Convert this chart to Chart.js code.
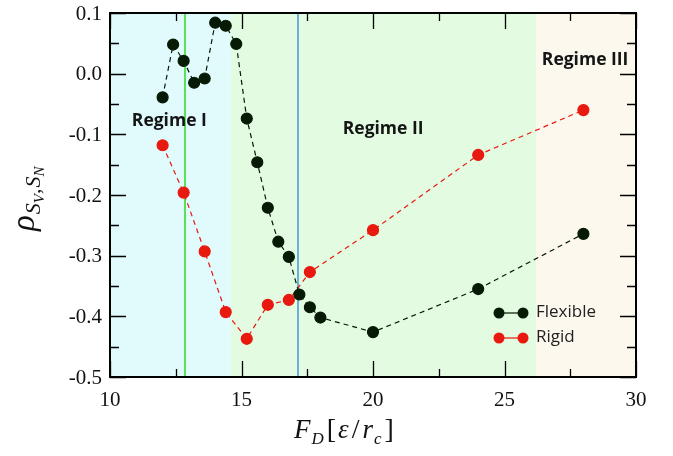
<!DOCTYPE html>
<html>
<head>
<meta charset="utf-8">
<script src="https://cdn.jsdelivr.net/npm/chart.js@4.4.1/dist/chart.umd.min.js"></script>
<style>
  html, body { margin: 0; padding: 0; background: #fff; }
</style>
</head>
<body>
<canvas id="myChart" width="673" height="456"></canvas>
<script>
// data
const fdFlexible = [12, 12.4, 12.8, 13.2, 13.6, 14, 14.4, 14.8, 15.2, 15.6, 16, 16.4, 16.8, 17.2, 17.6, 18, 20, 24, 28];
const rhoFlexible = [-0.039, 0.048, 0.021, -0.015, -0.008, 0.084, 0.079, 0.049, -0.074, -0.146, -0.221, -0.277, -0.302, -0.364, -0.385, -0.402, -0.426, -0.355, -0.264];
const fdRigid = [12, 12.8, 13.6, 14.4, 15.2, 16, 16.8, 17.6, 20, 24, 28];
const rhoRigid = [-0.118, -0.196, -0.293, -0.393, -0.437, -0.381, -0.373, -0.327, -0.258, -0.134, -0.060];

const regimeNames = ['Regime I', 'Regime II', 'Regime III'];
const regimeBounds = [10, 14.6, 26.2, 30];
const markerLines = [12.85, 17.14];

const xTicks = [10, 15, 20, 25, 30];
const xMinor = [12.5, 17.5, 22.5, 27.5];
const yTicks = [-0.5, -0.4, -0.3, -0.2, -0.1, 0.0, 0.1];
const yMinor = [-0.45, -0.35, -0.25, -0.15, -0.05, 0.05];

const bandColors = ['#e1fbfd', '#e2fbe1', '#fdf8ee'];
const lineColors = ['#58e254', '#3f9bd6'];
const lineWidths = [2, 1.5];
const flexColor = '#061a06';
const rigidColor = '#e8190e';
const axisColor = '#000000';

const pts = (xs, ys) => xs.map((x, i) => ({ x: x, y: ys[i] }));

// bands and the two marker lines, under the data
const bands = {
  id: 'bands',
  beforeDatasetsDraw(chart) {
    const ctx = chart.ctx, a = chart.chartArea;
    const sx = chart.scales.x;
    ctx.save();
    for (let i = 0; i < bandColors.length; i++) {
      const x0 = sx.getPixelForValue(regimeBounds[i]);
      const x1 = sx.getPixelForValue(regimeBounds[i + 1]);
      ctx.fillStyle = bandColors[i];
      ctx.fillRect(x0, a.top, x1 - x0, a.bottom - a.top);
    }
    markerLines.forEach((v, i) => {
      const px = Math.round(sx.getPixelForValue(v));
      ctx.fillStyle = lineColors[i];
      ctx.fillRect(px - lineWidths[i] / 2, a.top, lineWidths[i], a.bottom - a.top);
    });
    ctx.restore();
  }
};

// texts, then the frame and inward ticks on top of everything
const texts = {
  id: 'texts',
  afterDraw(chart) {
    const ctx = chart.ctx, a = chart.chartArea;
    const sx = chart.scales.x, sy = chart.scales.y;
    ctx.save();
    ctx.fillStyle = '#111';
    ctx.font = '21px "Liberation Serif"';
    ctx.textAlign = 'right';
    ctx.textBaseline = 'middle';
    yTicks.forEach(v => {
      const s = (Math.abs(v) < 1e-9 ? 0 : v).toFixed(1);
      ctx.fillText(s, a.left - 8, sy.getPixelForValue(v) + 1);
    });

    ctx.fillStyle = '#151515';
    ctx.font = 'bold 17.5px "Open Sans"';
    ctx.textAlign = 'left';
    ctx.fillText(regimeNames[0], sx.getPixelForValue(10.83), sy.getPixelForValue(-0.078));
    ctx.fillText(regimeNames[1], sx.getPixelForValue(18.85), sy.getPixelForValue(-0.091));
    ctx.fillText(regimeNames[2], sx.getPixelForValue(26.42), sy.getPixelForValue(0.0225));

    const lx0 = 499, lx1 = 523;
    [[flexColor, 'Flexible', 313], [rigidColor, 'Rigid', 338]].forEach(([c, label, ly]) => {
      ctx.fillStyle = c;
      ctx.fillRect(lx0, ly - 0.6, lx1 - lx0, 1.2);
      [lx0, lx1].forEach(px => {
        ctx.beginPath(); ctx.arc(px, ly, 5.5, 0, Math.PI * 2); ctx.fill();
      });
      ctx.fillStyle = '#222';
      ctx.font = '17px "Open Sans"';
      ctx.fillText(label, 536, ly - 1);
    });

    ctx.fillStyle = '#111';
    ctx.textBaseline = 'alphabetic';
    let cx = 294, by = 438;
    const put = (t, font, dy, gap) => {
      ctx.font = font;
      ctx.fillText(t, cx, by + (dy || 0));
      cx += ctx.measureText(t).width + (gap || 0);
    };
    put('F', 'italic 27px "Liberation Serif"', 0, 1);
    put('D', 'italic 17px "Liberation Serif"', 6, 3);
    put('[', '28px "Liberation Serif"', 0, 2);
    put('\u03b5', 'italic 27px "Liberation Serif"', 0, 3);
    put('/', '28px "Liberation Serif"', 0, 3);
    put('r', 'italic 27px "Liberation Serif"', 0, 1);
    put('c', 'italic 17px "Liberation Serif"', 6, 3);
    put(']', '28px "Liberation Serif"');

    ctx.save();
    ctx.translate(34, 231);
    ctx.rotate(-Math.PI / 2);
    cx = 0; by = 0;
    put('\u03c1', 'italic 33px "Liberation Serif"', 0, 1);
    put('S', 'italic 22px "Liberation Serif"', 6);
    put('V', 'italic 15px "Liberation Serif"', 10);
    put(',', '22px "Liberation Serif"', 6, 1);
    put('S', 'italic 22px "Liberation Serif"', 6);
    put('N', 'italic 15px "Liberation Serif"', 10);
    ctx.restore();

    // inward ticks, all four sides
    ctx.setLineDash([]);
    ctx.globalAlpha = 1;
    ctx.globalCompositeOperation = 'source-over';
    ctx.strokeStyle = axisColor;
    ctx.lineWidth = 1.3;
    ctx.beginPath();
    xTicks.concat(xMinor).forEach(v => {
      const px = Math.round(sx.getPixelForValue(v)) + 0.5;
      const len = xTicks.includes(v) ? 16 : 8;
      ctx.moveTo(px, a.bottom); ctx.lineTo(px, a.bottom - len);
      ctx.moveTo(px, a.top); ctx.lineTo(px, a.top + len);
    });
    yTicks.concat(yMinor).forEach(v => {
      const py = Math.round(sy.getPixelForValue(v)) + 0.5;
      const len = yTicks.includes(v) ? 16 : 9;
      ctx.moveTo(a.left, py); ctx.lineTo(a.left + len, py);
      ctx.moveTo(a.right, py); ctx.lineTo(a.right - len, py);
    });
    ctx.stroke();

    // frame
    ctx.lineWidth = 2;
    ctx.strokeRect(a.left, a.top, a.right - a.left, a.bottom - a.top);
    ctx.restore();
  }
};

const chartElement = document.getElementById('myChart');

new Chart(chartElement, {
  type: 'scatter',
  data: {
    datasets: [{
      label: 'Flexible',
      data: pts(fdFlexible, rhoFlexible),
      showLine: true,
      borderColor: flexColor,
      backgroundColor: flexColor,
      borderWidth: 1.2,
      borderDash: [5, 4],
      pointRadius: 5.5,
      pointHoverRadius: 5.5
    }, {
      label: 'Rigid',
      data: pts(fdRigid, rhoRigid),
      showLine: true,
      borderColor: rigidColor,
      backgroundColor: rigidColor,
      borderWidth: 1.2,
      borderDash: [5, 4],
      pointRadius: 5.5,
      pointHoverRadius: 5.5
    }]
  },
  options: {
    responsive: false,
    animation: false,
    devicePixelRatio: 1,
    layout: { padding: { left: 0, right: 37, top: 13, bottom: 0 } },
    plugins: { legend: { display: false }, tooltip: { enabled: false } },
    scales: {
      x: {
        type: 'linear',
        min: 10, max: 30,
        afterFit: s => { s.height = 79; },
        afterBuildTicks: s => { s.ticks = xTicks.map(v => ({ value: v })); },
        grid: { display: false },
        border: { display: true, color: axisColor, width: 2 },
        ticks: {
          autoSkip: false,
          padding: 3,
          color: '#111',
          font: { family: 'Liberation Serif', size: 21 },
          callback: v => String(v)
        }
      },
      y: {
        min: -0.5, max: 0.1,
        afterFit: s => { s.width = 110; },
        grid: { display: false },
        border: { display: true, color: axisColor, width: 2 },
        ticks: { display: false }
      }
    }
  },
  plugins: [bands, texts]
});
</script>
</body>
</html>
